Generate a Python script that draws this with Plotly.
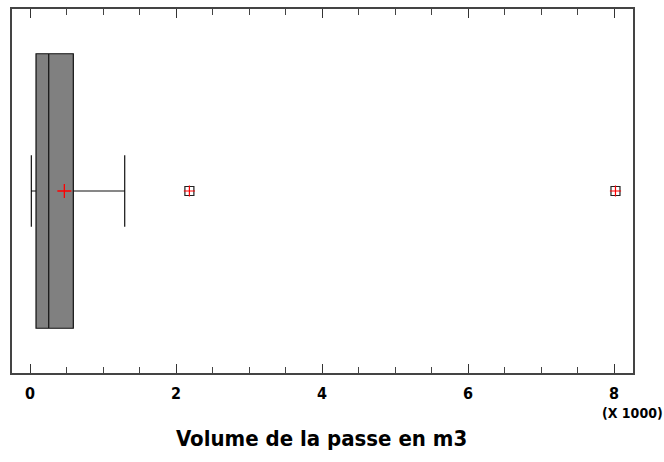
import plotly.graph_objects as go

# Box-plot statistics (m3)
stat_names = ["min", "q1", "median", "q3", "max"]
stat_values = [18, 82, 256, 593, 1297]
mean_value = [470]
outlier_values = [2183, 8020]

tick_vals = [0, 2000, 4000, 6000, 8000]
tick_text = ["0", "2", "4", "6", "8"]

s = dict(zip(stat_names, stat_values))

fig = go.Figure()
fig.add_trace(go.Box(
    orientation="h",
    y=[0],
    q1=[s["q1"]], median=[s["median"]], q3=[s["q3"]],
    lowerfence=[s["min"]], upperfence=[s["max"]],
    boxpoints=False,
    width=0.754,
    whiskerwidth=0.26,
    fillcolor="#808080",
    line=dict(color="#111111", width=1.2),
    hoverinfo="skip",
    showlegend=False,
))
fig.add_trace(go.Scatter(
    x=outlier_values, y=[0] * len(outlier_values), mode="markers",
    marker=dict(symbol="square-open", size=9, color="#222222", line=dict(color="#222222", width=1.2)),
    showlegend=False, hoverinfo="skip",
))
fig.add_trace(go.Scatter(
    x=outlier_values, y=[0] * len(outlier_values), mode="markers",
    marker=dict(symbol="cross-thin-open", size=8, color="red", line=dict(color="red", width=1.2)),
    showlegend=False, hoverinfo="skip",
))
# mean marker drawn on the (identical) top axis so that axis is rendered
fig.add_trace(go.Scatter(
    x=mean_value, y=[0], mode="markers", xaxis="x2",
    marker=dict(symbol="cross-thin-open", size=10, line=dict(color="red", width=1.3), color="red"),
    showlegend=False, hoverinfo="skip",
))

font_family = "DejaVu Sans Condensed, Arial Narrow, sans-serif"
x_range = [-247, 8260]

tick_style = dict(
    ticks="inside", ticklen=9, tickwidth=1.3, tickcolor="#333333",
    minor=dict(dtick=500, ticks="inside", ticklen=6, tickwidth=1.1, tickcolor="#444444"),
)

fig.update_layout(
    width=664, height=462,
    margin=dict(l=12, r=31, t=7, b=89),
    paper_bgcolor="white", plot_bgcolor="white",
    xaxis=dict(
        range=x_range,
        tickvals=tick_vals, ticktext=tick_text,
        showline=True, linecolor="#444444", linewidth=1.5, mirror=True,
        showgrid=False, zeroline=False,
        ticklabelstandoff=5,
        tickfont=dict(family=font_family, size=16, color="black", weight="bold"),
        **tick_style,
    ),
    xaxis2=dict(
        range=x_range, overlaying="x", side="top", anchor="y",
        tickvals=tick_vals, showticklabels=False,
        showline=False, showgrid=False, zeroline=False,
        **tick_style,
    ),
    yaxis=dict(
        range=[-0.5, 0.5],
        showticklabels=False, ticks="",
        showline=True, linecolor="#444444", linewidth=1.5, mirror=True,
        showgrid=False, zeroline=False,
    ),
    annotations=[
        dict(
            text="(X 1000)", xref="paper", yref="paper", x=0.999, y=-0.109,
            xanchor="center", yanchor="middle", showarrow=False,
            font=dict(family=font_family, size=14, color="black", weight="bold"),
        ),
        dict(
            text="Volume de la passe en m3", xref="paper", yref="paper", x=0.498, y=-0.180,
            xanchor="center", yanchor="middle", showarrow=False,
            font=dict(family=font_family, size=22, color="black", weight="bold"),
        ),
    ],
)

fig.write_html("out.html", config={"displayModeBar": False},
               post_script="document.body.style.margin='0';document.body.style.padding='0';")
